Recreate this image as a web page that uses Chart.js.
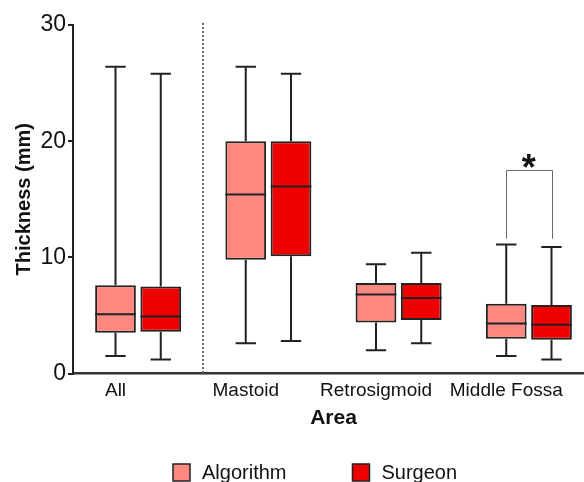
<!DOCTYPE html>
<html>
<head>
<meta charset="utf-8">
<script src="https://cdn.jsdelivr.net/npm/chart.js@4"></script>
<style>
  html, body { margin: 0; padding: 0; background: #fff; overflow: hidden; }
  #wrap { width: 600px; height: 482px; }
</style>
</head>
<body>
<div id="wrap"><canvas id="boxChart" width="600" height="482"></canvas></div>
<script>
// categories and tick labels
const categories = ['All', 'Mastoid', 'Retrosigmoid', 'Middle Fossa'];
const yTicks = [0, 10, 20, 30];

// five-number summaries per area: [min, q1, median, q3, max]
const algorithmStats = [
    [1.5, 3.5, 5.1, 7.6, 26.4],
    [2.6, 9.8, 15.4, 20.0, 26.4],
    [2.0, 4.4, 6.8, 7.8, 9.4],
    [1.5, 3.0, 4.3, 6.0, 11.1]
];
const surgeonStats = [
    [1.2, 3.6, 4.9, 7.5, 25.8],
    [2.8, 10.1, 16.1, 20.0, 25.8],
    [2.6, 4.6, 6.5, 7.8, 10.4],
    [1.2, 2.9, 4.2, 5.9, 10.9]
];

// significance bracket: category index, bracket foot and top (mm)
const sigCategory = 3;
const sigFoot = 11.6;
const sigTop = 17.5;

const FONT = 'Liberation Sans, Arial, sans-serif';

// whiskers + median lines on top of floating bars
const boxPlotPlugin = {
    id: 'boxWhiskers',
    afterDatasetsDraw(chart) {
        const { ctx, scales: { y } } = chart;
        chart.data.datasets.forEach((ds, di) => {
            const meta = chart.getDatasetMeta(di);
            meta.data.forEach((bar, i) => {
                const [min, q1, med, q3, max] = ds.stats[i];
                const half = bar.width / 2;
                const cap = bar.width / 4;
                ctx.save();
                ctx.strokeStyle = '#222';
                ctx.lineWidth = 2;
                ctx.beginPath();
                // median
                ctx.moveTo(bar.x - half, y.getPixelForValue(med));
                ctx.lineTo(bar.x + half, y.getPixelForValue(med));
                // upper whisker
                ctx.moveTo(bar.x, y.getPixelForValue(q3));
                ctx.lineTo(bar.x, y.getPixelForValue(max));
                ctx.moveTo(bar.x - cap, y.getPixelForValue(max));
                ctx.lineTo(bar.x + cap, y.getPixelForValue(max));
                // lower whisker
                ctx.moveTo(bar.x, y.getPixelForValue(q1));
                ctx.lineTo(bar.x, y.getPixelForValue(min));
                ctx.moveTo(bar.x - cap, y.getPixelForValue(min));
                ctx.lineTo(bar.x + cap, y.getPixelForValue(min));
                ctx.stroke();
                ctx.restore();
            });
        });
    }
};

// dotted divider, significance bracket and legend
const extrasPlugin = {
    id: 'extras',
    afterDraw(chart) {
        const { ctx, chartArea, scales: { x, y } } = chart;
        ctx.save();

        // divider between "All" and the areas
        const divX = Math.round((x.getPixelForValue(0) + x.getPixelForValue(1)) / 2);
        ctx.fillStyle = '#666';
        for (let py = chartArea.top - 2; py < chartArea.bottom; py += 4) {
            ctx.fillRect(divX - 1, py, 2, 2);
        }

        // bracket over Middle Fossa
        const a = chart.getDatasetMeta(0).data[sigCategory];
        const b = chart.getDatasetMeta(1).data[sigCategory];
        const yFoot = y.getPixelForValue(sigFoot);
        const yTop = y.getPixelForValue(sigTop);
        ctx.strokeStyle = '#666';
        ctx.lineWidth = 1;
        ctx.beginPath();
        ctx.moveTo(Math.round(a.x) + 0.5, yFoot);
        ctx.lineTo(Math.round(a.x) + 0.5, Math.round(yTop) + 0.5);
        ctx.lineTo(Math.round(b.x) + 0.5, Math.round(yTop) + 0.5);
        ctx.lineTo(Math.round(b.x) + 0.5, yFoot);
        ctx.stroke();
        ctx.fillStyle = '#111';
        ctx.font = 'bold 36px ' + FONT;
        ctx.textAlign = 'center';
        ctx.textBaseline = 'alphabetic';
        ctx.fillText('*', (a.x + b.x) / 2, yTop + 10);

        // legend
        ctx.font = '20px ' + FONT;
        ctx.textBaseline = 'middle';
        ctx.textAlign = 'left';
        let lx = 173;
        const ly = 472;
        chart.data.datasets.forEach(ds => {
            ctx.fillStyle = ds.backgroundColor;
            ctx.fillRect(lx, ly - 8, 17, 17);
            ctx.strokeStyle = '#222';
            ctx.lineWidth = 1.5;
            ctx.strokeRect(lx, ly - 8, 17, 17);
            ctx.fillStyle = '#111';
            ctx.fillText(ds.label, lx + 29, ly + 1);
            lx += 29 + ctx.measureText(ds.label).width + 66;
        });
        ctx.restore();
    }
};

new Chart(document.getElementById('boxChart'), {
    type: 'bar',
    data: {
        labels: categories,
        datasets: [
            {
                label: 'Algorithm',
                stats: algorithmStats,
                data: algorithmStats.map(s => [s[1], s[3]]),
                backgroundColor: '#FF8880',
                borderColor: '#222',
                borderWidth: 2,
                borderSkipped: false
            },
            {
                label: 'Surgeon',
                stats: surgeonStats,
                data: surgeonStats.map(s => [s[1], s[3]]),
                backgroundColor: '#EE0000',
                borderColor: '#222',
                borderWidth: 2,
                borderSkipped: false
            }
        ]
    },
    options: {
        responsive: false,
        animation: false,
        categoryPercentage: 0.695,
        barPercentage: 0.9,
        layout: { padding: { top: 25, right: 6, left: 0, bottom: 0 } },
        plugins: {
            legend: { display: false },
            tooltip: { enabled: false }
        },
        scales: {
            x: {
                grid: { display: false, drawTicks: false },
                border: { display: true, color: '#333', width: 2.5 },
                ticks: {
                    color: '#111',
                    font: { family: FONT, size: 19 },
                    padding: 6,
                    labelOffset: -22.6,
                    maxRotation: 0
                },
                title: {
                    display: true,
                    text: 'Area',
                    color: '#111',
                    font: { family: FONT, size: 21, weight: 'bold' },
                    padding: { top: 0, bottom: 51 }
                },
                afterFit(scale) { scale.height = 108.5; }
            },
            y: {
                min: 0,
                max: 30,
                afterBuildTicks(scale) { scale.ticks = yTicks.map(v => ({ value: v })); },
                grid: { drawOnChartArea: false, drawTicks: true, tickLength: 5, color: '#222', lineWidth: 2 },
                border: { display: true, color: '#222', width: 2 },
                ticks: {
                    color: '#111',
                    font: { family: FONT, size: 23 },
                    padding: 2
                },
                title: {
                    display: true,
                    text: 'Thickness (mm)',
                    color: '#111',
                    font: { family: FONT, size: 20, weight: 'bold' },
                    padding: { top: 12, bottom: 0 }
                },
                afterFit(scale) { scale.width = 73; }
            }
        }
    },
    plugins: [boxPlotPlugin, extrasPlugin]
});
</script>
</body>
</html>
